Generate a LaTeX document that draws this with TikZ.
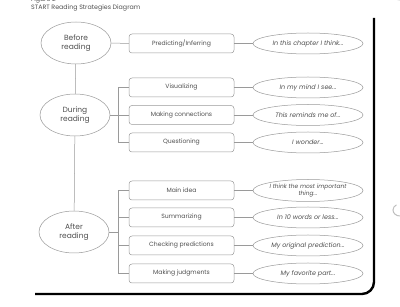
\documentclass[tikz,border=0pt]{standalone}
\usepackage{fontspec}
\setmainfont{Poppins}
\usetikzlibrary{shapes.geometric}
\definecolor{ln}{HTML}{9A9A9A}
\definecolor{tx}{HTML}{505050}
\tikzset{
  stage/.style={ellipse, draw=ln, line width=0.5pt, minimum width=70, minimum height=42, inner sep=0, text=tx, align=center, font=\fontsize{7.5}{8.5}\selectfont},
  strat/.style={rectangle, rounded corners=3, draw=ln, line width=0.5pt, minimum width=105, minimum height=19, inner sep=0, text=tx, font=\fontsize{6.1}{7}\selectfont},
  prompt/.style={ellipse, draw=ln, line width=0.5pt, minimum width=110, minimum height=21, inner sep=0, text=tx, align=center, font=\itshape\fontsize{6.4}{6.6}\selectfont},
  conn/.style={draw=ln, line width=0.5pt}
}
\begin{document}
\begin{tikzpicture}[x=1pt,y=-1pt]
\useasboundingbox (0,0) rectangle (400,307);
\clip (0,0) rectangle (400,307);
\fill[white] (0,0) rectangle (400,307);
% title
\node[anchor=base west, inner sep=0, text=tx, font=\fontsize{6.3}{7}\selectfont] (fig) at (31,1.5) {Figure 2};
\node[anchor=base west, inner sep=0, text=tx, font=\fontsize{6.3}{7}\selectfont] (title) at (31,9.5) {START Reading Strategies Diagram};
% stages
\node[stage] (bef) at (76,43) {Before\\reading};
\node[stage] (dur) at (75,115) {During\\reading};
\node[stage] (aft) at (74,232) {After\\reading};
% strategies
\node[strat] (pred) at (181.5,43.5) {Predicting/Inferring};
\node[strat] (vis) at (181.5,87.5) {Visualizing};
\node[strat] (mk) at (181.5,115) {Making connections};
\node[strat] (q) at (181.5,142.5) {Questioning};
\node[strat] (mi) at (181.5,190.5) {Main idea};
\node[strat] (sum) at (181.5,217.5) {Summarizing};
\node[strat] (chk) at (181.5,245.5) {Checking predictions};
\node[strat] (mj) at (181.5,273.5) {Making judgments};
% prompts
\node[prompt] (p1) at (308,43.5) {In this chapter I think...};
\node[prompt] (p2) at (308,87.5) {In my mind I see...};
\node[prompt] (p3) at (308,115) {This reminds me of...};
\node[prompt] (p4) at (308,142.5) {I wonder...};
\node[prompt, minimum height=22, font=\itshape\fontsize{5.9}{6.3}\selectfont] (p5) at (308,190.5) {I think the most important\\thing...};
\node[prompt] (p6) at (308,217.5) {In 10 words or less...};
\node[prompt] (p7) at (308,245.5) {My original prediction...};
\node[prompt] (p8) at (308,273.5) {My favorite part...};
% connectors
\draw[conn] (bef) -- (dur);
\draw[conn] (dur) -- (aft);
\draw[conn] (bef.east) -- (pred.west);
\draw[conn] (dur.east) -- (mk.west);
\draw[conn] (vis.west) -- ++(-11,0) coordinate (vb) |- (q.west);
\draw[conn] (aft.east) -- (aft.east -| vb);
\draw[conn] (mi.west) -- ++(-11,0) coordinate (ab) |- (mj.west);
\draw[conn] (sum.west) -- (sum.west -| ab);
\draw[conn] (chk.west) -- (chk.west -| ab);
\foreach \a/\b in {pred/p1,vis/p2,mk/p3,q/p4,mi/p5,sum/p6,chk/p7,mj/p8}
  \draw[conn] (\a.east) -- (\b.west);
% page frame
\draw[black, line width=2.4pt, rounded corners=12] (374,18) -- (374,294) -- (35,294);
% binder holes
\draw[gray!50, line width=1pt] (400,0) arc (90:200:7 and 5);
\draw[gray!50, line width=1pt] (400,216) arc (90:240:7 and 6);
\end{tikzpicture}
\end{document}
